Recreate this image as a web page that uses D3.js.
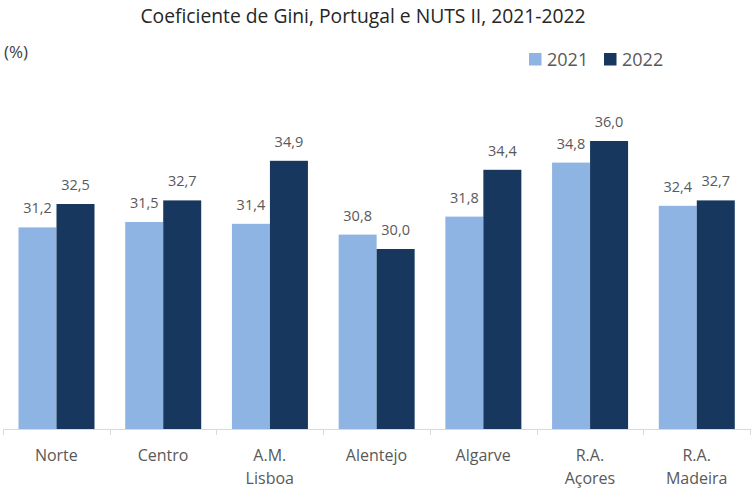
<!DOCTYPE html>
<html>
<head>
<meta charset="utf-8">
<script src="https://cdn.jsdelivr.net/npm/d3@7"></script>
<style>
  body { margin: 0; background: #fff; }
  text { font-family: "Open Sans", sans-serif; }
</style>
</head>
<body>
<script>
'use strict';

// chart data
let regions = [["Norte"], ["Centro"], ["A.M.", "Lisboa"], ["Alentejo"], ["Algarve"], ["R.A.", "Açores"], ["R.A.", "Madeira"]];
let years = ["2021", "2022"];
let values2021 = [31.2, 31.5, 31.4, 30.8, 31.8, 34.8, 32.4];
let values2022 = [32.5, 32.7, 34.9, 30.0, 34.4, 36.0, 32.7];
let yDomain = [20, 40];

let colors = { "2021": "#8EB4E3", "2022": "#17375E" };

let width = 756, height = 493;
let svg = d3.select('body').append('svg')
  .attr('width', width)
  .attr('height', height);

// comma as decimal separator
let pt = d3.formatLocale({ decimal: ",", thousands: ".", grouping: [3], currency: ["", "€"] });
let fmt = pt.format(".1f");

let rows = regions.map((r, i) => ({ key: r.join(" "), lines: r, v: { "2021": values2021[i], "2022": values2022[i] } }));

// scales
let x0 = d3.scaleBand()
  .domain(rows.map(d => d.key))
  .range([3, 750]);

let x1 = d3.scaleBand()
  .domain(years)
  .range([15.5, 91.5]);

let y = d3.scaleLinear()
  .domain(yDomain)
  .range([429, 69]);

// bars
let groups = svg.selectAll('.grp')
  .data(rows)
  .enter()
  .append('g')
  .attr('transform', d => `translate(${x0(d.key)},0)`);

groups.selectAll('rect')
  .data(d => years.map(k => ({ year: k, value: d.v[k] })))
  .enter()
  .append('rect')
  .attr('x', d => x1(d.year))
  .attr('y', d => y(d.value))
  .attr('width', x1.bandwidth())
  .attr('height', d => y(yDomain[0]) - y(d.value))
  .attr('fill', d => colors[d.year]);

// value labels
groups.selectAll('.lbl')
  .data(d => years.map(k => ({ year: k, value: d.v[k] })))
  .enter()
  .append('text')
  .attr('x', d => x1(d.year) + x1.bandwidth() / 2)
  .attr('y', d => y(d.value) - 14)
  .attr('text-anchor', 'middle')
  .style('font-size', '14.5px')
  .style('fill', '#595959')
  .text(d => fmt(d.value));

// x axis
let xAxis = d3.axisBottom(x0).tickSize(0).tickFormat('');
let axisG = svg.append('g')
  .attr('transform', `translate(0,${y(yDomain[0])})`)
  .call(xAxis);
axisG.select('.domain').attr('stroke', '#D9D9D9').attr('d', 'M3,0.5H750');

// boundary ticks
let bounds = rows.map(d => x0(d.key)).concat([x0.range()[1]]);
axisG.selectAll('.bnd')
  .data(bounds)
  .enter()
  .append('line')
  .attr('x1', d => Math.round(d) + 0.5)
  .attr('x2', d => Math.round(d) + 0.5)
  .attr('y1', 0)
  .attr('y2', 6)
  .attr('stroke', '#D9D9D9');

// category labels
let catLabels = svg.selectAll('.cat')
  .data(rows)
  .enter()
  .append('text')
  .attr('text-anchor', 'middle')
  .attr('x', d => x0(d.key) + x0.bandwidth() / 2)
  .attr('y', 461)
  .style('font-size', '16px')
  .style('fill', '#595959');

catLabels.selectAll('tspan')
  .data(d => d.lines)
  .enter()
  .append('tspan')
  .attr('x', function() { return d3.select(this.parentNode).attr('x'); })
  .attr('dy', (d, i) => i === 0 ? 0 : 23)
  .text(d => d);

// title and unit
svg.append('text')
  .attr('x', 363)
  .attr('y', 23)
  .attr('text-anchor', 'middle')
  .style('font-size', '19.3px')
  .style('fill', '#262626')
  .text('Coeficiente de Gini, Portugal e NUTS II, 2021-2022');

svg.append('text')
  .attr('x', 4)
  .attr('y', 58)
  .style('font-size', '17px')
  .style('fill', '#404040')
  .text('(%)');

// legend
let legendX = [529, 604];
let legend = svg.selectAll('.leg')
  .data(years)
  .enter()
  .append('g')
  .attr('transform', (d, i) => `translate(${legendX[i]},53)`);

legend.append('rect')
  .attr('width', 12.5)
  .attr('height', 12.5)
  .attr('fill', d => colors[d]);

legend.append('text')
  .attr('x', 18)
  .attr('y', 13)
  .style('font-size', '18px')
  .style('fill', '#595959')
  .text(d => d);
</script>
</body>
</html>
